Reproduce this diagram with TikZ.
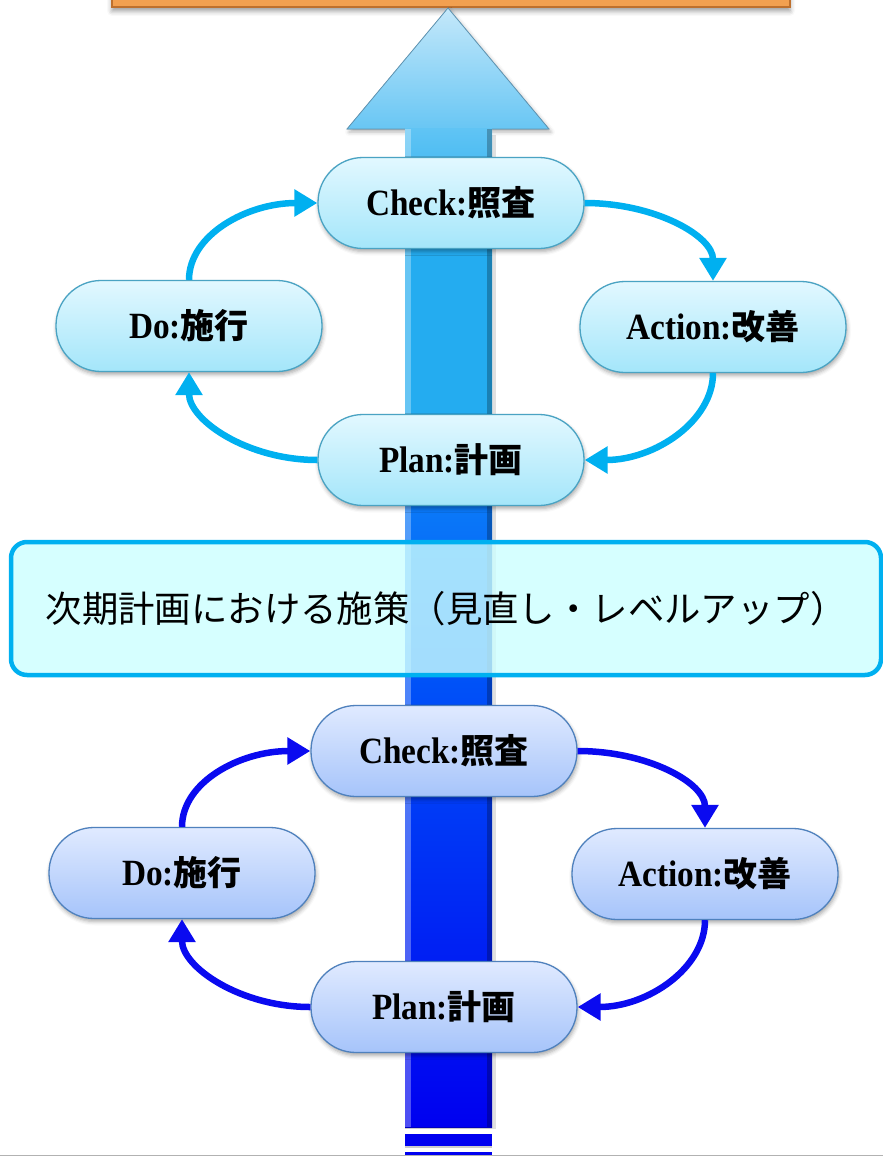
\documentclass[tikz,border=0pt]{standalone}
\usepackage{fontspec}
\setmainfont{Liberation Serif}
\newfontfamily\lat[FakeStretch=0.9]{Liberation Serif}
\newfontfamily\jp{Noto Sans CJK JP}
\usetikzlibrary{arrows.meta,shadows.blur}

% palette
\definecolor{orangeFill}{RGB}{242,160,80}
\definecolor{orangeEdge}{RGB}{190,112,45}
\definecolor{headTop}{RGB}{196,232,250}
\definecolor{headBot}{RGB}{104,198,244}
\definecolor{headEdge}{RGB}{96,150,180}
\definecolor{shaftA}{RGB}{96,196,244}
\definecolor{shaftB}{RGB}{36,172,240}
\definecolor{shaftC}{RGB}{10,120,248}
\definecolor{shaftD}{RGB}{0,80,248}
\definecolor{shaftE}{RGB}{0,0,240}
\definecolor{upTop}{RGB}{226,248,255}
\definecolor{upBot}{RGB}{164,230,250}
\definecolor{upEdge}{RGB}{74,163,195}
\definecolor{upLine}{RGB}{0,176,240}
\definecolor{loTop}{RGB}{224,234,255}
\definecolor{loBot}{RGB}{166,196,250}
\definecolor{loEdge}{RGB}{79,129,189}
\definecolor{loLine}{RGB}{10,10,240}
\definecolor{bandFill}{RGB}{204,255,255}

% shaft colour runs from light cyan at the top to deep blue at the foot
\pgfdeclareverticalshading{shaftshade}{100bp}{%
  color(0bp)=(shaftE); color(25bp)=(shaftE); color(46.9bp)=(shaftD);
  color(55.9bp)=(shaftC); color(59bp)=(shaftB); color(70bp)=(shaftB);
  color(75bp)=(shaftA); color(100bp)=(shaftA)}

\newcommand\pilltext[2]{{\lat\bfseries\fontsize{37}{40}\selectfont #1}{\jp\bfseries\fontsize{34}{40}\selectfont #2}}

\tikzset{
  pill/.style={rectangle, rounded corners=45pt, minimum width=266pt,
    minimum height=91pt, inner sep=0pt, line width=1.3pt,
    blur shadow={shadow xshift=1pt, shadow yshift=-3pt,
      shadow blur radius=4pt, shadow opacity=35}},
  uppill/.style={pill, draw=upEdge, top color=upTop, bottom color=upBot},
  lopill/.style={pill, draw=loEdge, top color=loTop, bottom color=loBot},
  cyc/.style={line width=6.5pt, -{Triangle[length=23pt,width=26pt]}},
  upcyc/.style={cyc, draw=upLine},
  locyc/.style={cyc, draw=loLine},
  band/.style={rectangle, rounded corners=16pt, draw=upLine, line width=4.5pt,
    fill=bandFill, fill opacity=0.8, text opacity=1, minimum width=870pt,
    minimum height=133pt, inner sep=0pt,
    font=\jp\fontsize{36.4}{40}\selectfont},
}

\begin{document}
\begin{tikzpicture}[x=1pt,y=-1pt]
\clip (0,0) rectangle (883,1156);
\useasboundingbox (0,0) rectangle (883,1156);

% goal box at the top
\filldraw[fill=orangeFill, draw=orangeEdge, line width=1.5pt,
  blur shadow={shadow xshift=0pt, shadow yshift=-4pt, shadow blur radius=5pt, shadow opacity=40}]
  (112,-20) rectangle (790,7);

% large upward arrow: head, shaft and broken foot
\filldraw[top color=headTop, bottom color=headBot, draw=headEdge, line width=0.8pt,
  blur shadow={shadow xshift=2pt, shadow yshift=-3pt, shadow blur radius=4pt, shadow opacity=30}]
  (448,8) -- (549,129) -- (347,129) -- cycle;
\shade[shading=shaftshade] (405,128.6) rectangle (492,1127);
\fill[white, opacity=0.3] (405,128.6) rectangle (411,1127);
\fill[black, opacity=0.25] (487,128.6) rectangle (492,1127);
\fill[black, opacity=0.12] (492,135) rectangle (496,1129);
\fill[shaftE] (405,1134) rectangle (492,1146);
\fill[shaftE] (405,1152) rectangle (492,1160);
\fill[black, opacity=0.2] (405,1146) rectangle (492,1148);
\fill[black, opacity=0.2] (405,1127) rectangle (492,1129);

% upper cycle
\node[uppill] (c1) at (451,203) {\pilltext{Check:}{照査}};
\node[uppill] (d1) at (189,326) {\pilltext{Do:}{施行}};
\node[uppill] (a1) at (713,327) {\pilltext{Action:}{改善}};
\node[uppill] (p1) at (451,460) {\pilltext{Plan:}{計画}};
\draw[upcyc] (d1.north) .. controls +(0,-45) and +(-70,0) .. (c1.west);
\draw[upcyc] (c1.east) .. controls +(70,0) and +(0,-45) .. (a1.north);
\draw[upcyc] (a1.south) .. controls +(0,48) and +(70,0) .. (p1.east);
\draw[upcyc] (p1.west) .. controls +(-70,0) and +(0,48) .. (d1.south);

% next-term band
\node[band] (next) at (446,608.5) {次期計画における施策（見直し・レベルアップ）};

% lower cycle
\node[lopill] (c2) at (444,751) {\pilltext{Check:}{照査}};
\node[lopill] (d2) at (182,873) {\pilltext{Do:}{施行}};
\node[lopill] (a2) at (705,874) {\pilltext{Action:}{改善}};
\node[lopill] (p2) at (444,1007) {\pilltext{Plan:}{計画}};
\draw[locyc] (d2.north) .. controls +(0,-45) and +(-70,0) .. (c2.west);
\draw[locyc] (c2.east) .. controls +(70,0) and +(0,-45) .. (a2.north);
\draw[locyc] (a2.south) .. controls +(0,48) and +(70,0) .. (p2.east);
\draw[locyc] (p2.west) .. controls +(-70,0) and +(0,48) .. (d2.south);

% page rule
\draw[black!30, line width=1pt] (0,1155) -- (883,1155);
\end{tikzpicture}
\end{document}
